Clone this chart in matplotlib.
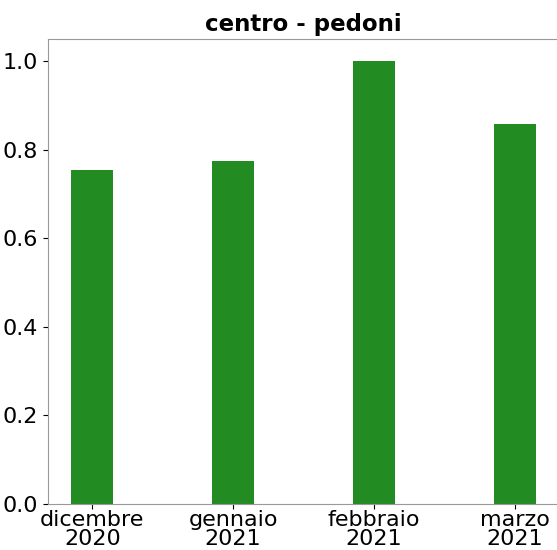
import matplotlib
matplotlib.use("Agg")
import matplotlib.pyplot as plt
import numpy as np

# mesi e valori normalizzati (centro - pedoni)
mesi = ["dicembre\n2020", "gennaio\n2021", "febbraio\n2021", "marzo\n2021"]
valori = [0.755, 0.775, 1.0, 0.857]

fig = plt.figure(figsize=(5.57, 5.50), dpi=100)
ax = fig.add_axes([0.086, 0.084, 0.918, 0.845])

x = np.arange(len(mesi))
ax.bar(x, valori, width=0.3, color="forestgreen")
ax.set_xticks(x)
ax.set_xticklabels(mesi, fontsize=16, linespacing=0.95)
ax.set_yticks([0.0, 0.2, 0.4, 0.6, 0.8, 1.0])
ax.tick_params(axis="y", labelsize=16)
ax.tick_params(axis="x", pad=1)
ax.set_title("centro - pedoni", fontsize=16.5, fontweight="bold", pad=6)

for s in ax.spines.values():
    s.set_color("#999999")

fig.savefig("out.png", dpi=100)
plt.close()
